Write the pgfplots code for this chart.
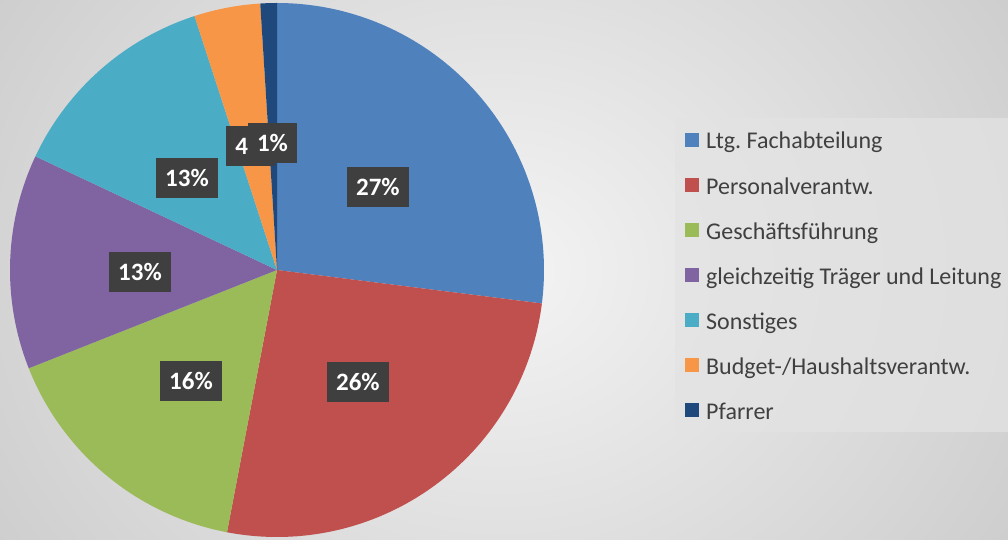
\documentclass[border=0pt]{standalone}
\usepackage{fontspec}
\setmainfont{Carlito}
\usepackage{pgfplots}
\pgfplotsset{compat=1.18}
\definecolor{cA}{HTML}{4F81BD}
\definecolor{cB}{HTML}{C0504D}
\definecolor{cC}{HTML}{9BBB59}
\definecolor{cD}{HTML}{8064A2}
\definecolor{cE}{HTML}{4BACC6}
\definecolor{cF}{HTML}{F79646}
\definecolor{cG}{HTML}{1F497D}
\definecolor{bgIn}{HTML}{F4F4F4}
\definecolor{bgOut}{HTML}{C4C4C4}
\definecolor{lab}{HTML}{3F3F3F}
\definecolor{legbg}{HTML}{E3E3E3}
\newcommand{\legent}[1]{\addlegendentry{\strut #1}}
\begin{document}
\frenchspacing
\begin{tikzpicture}
\useasboundingbox (0,0) rectangle (1008pt,540pt);
\begin{scope}
\clip (0,0) rectangle (1008pt,540pt);
\shade[inner color=bgIn, outer color=bgOut] (-250pt,-380pt) rectangle (1250pt,920pt);
\fill[legbg, opacity=0.75] (675pt,108pt) rectangle (1008pt,422pt);
\end{scope}
\begin{axis}[
  at={(10pt,3pt)}, anchor=south west,
  scale only axis, width=534pt, height=534pt,
  xmin=-1, xmax=1, ymin=-1, ymax=1,
  hide axis, clip=false,
  legend cell align=left,
  legend image code/.code={\fill[#1] (0pt,-7pt) rectangle (14pt,7pt); \path (19pt,0pt);},
  legend style={at={(1.264,0.765)}, anchor=north west, draw=none,
    fill=none, inner sep=0pt,
    font=\fontsize{24}{29}\selectfont, text=black!75,
    nodes={inner xsep=2pt, inner ysep=0pt},
    row sep=23.3pt},
]
\addplot[fill=cA, draw=none, domain={90-3.6*(27)}:{90}, samples=90] ({cos(x)},{sin(x)}) -- (axis cs:0,0) -- cycle;
\legent{Ltg. Fachabteilung}
\addplot[fill=cB, draw=none, domain={90-3.6*(27+26)}:{90-3.6*(27)}, samples=90] ({cos(x)},{sin(x)}) -- (axis cs:0,0) -- cycle;
\legent{Personalverantw.}
\addplot[fill=cC, draw=none, domain={90-3.6*(27+26+16)}:{90-3.6*(27+26)}, samples=60] ({cos(x)},{sin(x)}) -- (axis cs:0,0) -- cycle;
\legent{Geschäftsführung}
\addplot[fill=cD, draw=none, domain={90-3.6*(27+26+16+13)}:{90-3.6*(27+26+16)}, samples=50] ({cos(x)},{sin(x)}) -- (axis cs:0,0) -- cycle;
\legent{gleichzeitig Träger und Leitung}
\addplot[fill=cE, draw=none, domain={90-3.6*(27+26+16+13+13)}:{90-3.6*(27+26+16+13)}, samples=50] ({cos(x)},{sin(x)}) -- (axis cs:0,0) -- cycle;
\legent{Sonstiges}
\addplot[fill=cF, draw=none, domain={90-3.6*(27+26+16+13+13+4)}:{90-3.6*(27+26+16+13+13)}, samples=20] ({cos(x)},{sin(x)}) -- (axis cs:0,0) -- cycle;
\legent{Budget-/Haushaltsverantw.}
\addplot[fill=cG, draw=none, domain={90-3.6*(27+26+16+13+13+4+1)}:{90-3.6*(27+26+16+13+13+4)}, samples=10] ({cos(x)},{sin(x)}) -- (axis cs:0,0) -- cycle;
\legent{Pfarrer}
\tikzset{lbl/.style={fill=lab, text=white, font=\fontsize{25}{29}\selectfont\bfseries, inner xsep=9pt, minimum height=40pt, anchor=center}}
\node[lbl] at (axis cs:0.378,0.311) {27\%};
\node[lbl] at (axis cs:0.303,-0.419) {26\%};
\node[lbl] at (axis cs:-0.322,-0.416) {16\%};
\node[lbl] at (axis cs:-0.513,-0.007) {13\%};
\node[lbl] at (axis cs:-0.337,0.345) {13\%};
\node[lbl] at (axis cs:-0.098,0.464) {4\%};
\node[lbl] at (axis cs:-0.017,0.476) {1\%};
\end{axis}
\end{tikzpicture}
\end{document}
